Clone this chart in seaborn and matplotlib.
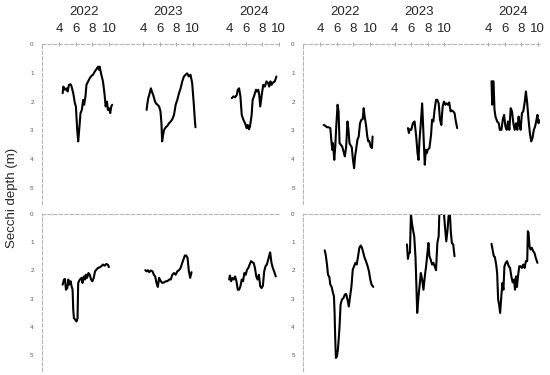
import matplotlib
matplotlib.use("Agg")
import numpy as np
import pandas as pd
import matplotlib.pyplot as plt
import seaborn as sns

# years and month ticks shown on top of each panel
years = [2022, 2023, 2024]
month_ticks = [4, 6, 8, 10]

# ---- top-left panel: decimal month / Secchi depth (m)
tl_2022_month = [4.40, 4.48, 4.68, 4.88, 5.00, 5.16, 5.36, 5.48, 5.68, 5.88, 6.00, 6.16, 6.28, 6.40, 6.56, 6.72, 6.88, 7.00, 7.16, 7.28,
                 7.48, 7.68, 7.88, 8.08, 8.28, 8.48, 8.68, 8.80, 8.88, 9.08, 9.28, 9.48, 9.60, 9.76, 9.88, 10.00, 10.16, 10.28, 10.40]
tl_2022_depth = [1.71, 1.48, 1.59, 1.54, 1.65, 1.42, 1.40, 1.48, 1.71, 2.06, 2.17, 2.98, 3.38, 2.98, 2.40, 2.29, 1.94, 2.11, 1.82, 1.42,
                 1.30, 1.19, 1.11, 1.07, 0.96, 0.88, 0.79, 0.90, 0.79, 1.07, 1.30, 1.77, 2.17, 2.00, 2.29, 2.23, 2.40, 2.17, 2.11]
tl_2023_month = [4.40, 4.48, 4.60, 4.72, 4.92, 5.04, 5.20, 5.36, 5.52, 5.72, 5.92, 6.08, 6.20, 6.28, 6.40, 6.52, 6.72, 6.92, 7.12, 7.32,
                 7.52, 7.72, 7.92, 8.12, 8.32, 8.52, 8.72, 8.92, 9.12, 9.32, 9.52, 9.72, 9.92, 10.12, 10.24, 10.32]
tl_2023_depth = [2.29, 2.11, 1.88, 1.77, 1.54, 1.65, 1.77, 1.94, 2.06, 2.11, 2.17, 2.34, 2.75, 3.38, 3.15, 2.98, 2.89, 2.84, 2.75, 2.69,
                 2.61, 2.46, 2.11, 1.94, 1.71, 1.54, 1.30, 1.13, 1.07, 1.02, 1.13, 1.07, 1.36, 2.11, 2.63, 2.89]
tl_2024_month = [4.32, 4.52, 4.72, 4.92, 5.04, 5.20, 5.36, 5.52, 5.72, 5.92, 6.12, 6.24, 6.40, 6.52, 6.72, 6.84, 7.00, 7.12, 7.24, 7.36,
                 7.52, 7.64, 7.76, 7.92, 8.12, 8.32, 8.52, 8.72, 8.84, 9.00, 9.12, 9.32, 9.52, 9.72]
tl_2024_depth = [1.88, 1.82, 1.85, 1.77, 1.59, 1.54, 1.82, 2.46, 2.63, 2.75, 2.92, 2.81, 2.96, 2.86, 2.46, 1.94, 1.82, 1.71, 1.59, 1.65,
                 1.59, 1.77, 2.17, 1.82, 1.42, 1.48, 1.30, 1.36, 1.48, 1.30, 1.42, 1.34, 1.30, 1.13]

# ---- top-right panel
tr_2022_month = [4.40, 4.60, 4.80, 5.00, 5.20, 5.32, 5.44, 5.52, 5.68, 5.80, 5.92, 6.08, 6.20, 6.32, 6.48, 6.64, 6.80, 6.96, 7.12, 7.28,
                 7.40, 7.52, 7.68, 7.80, 7.92, 8.08, 8.20, 8.32, 8.48, 8.64, 8.80, 8.96, 9.12, 9.24, 9.36, 9.52, 9.68, 9.80, 9.92, 10.08,
                 10.24, 10.32]
tr_2022_depth = [2.81, 2.84, 2.89, 2.89, 2.92, 3.33, 3.67, 3.44, 4.02, 3.56, 2.86, 2.11, 2.34, 3.44, 3.50, 3.56, 3.73, 3.90, 3.56, 2.69,
                 2.98, 3.44, 3.53, 3.58, 3.96, 4.31, 3.90, 3.67, 3.33, 3.21, 2.75, 2.63, 2.61, 2.23, 2.52, 2.81, 3.21, 3.38, 3.36, 3.56,
                 3.61, 3.21]
tr_2023_month = [5.60, 5.72, 5.80, 6.00, 6.20, 6.40, 6.60, 6.76, 6.88, 7.00, 7.16, 7.32, 7.44, 7.56, 7.64, 7.76, 7.88, 8.00, 8.20, 8.40,
                 8.52, 8.68, 8.80, 9.00, 9.16, 9.32, 9.48, 9.64, 9.80, 9.96, 10.12, 10.28, 10.44, 10.60, 10.76, 10.92, 11.08, 11.24,
                 11.40, 11.56]
tr_2023_depth = [2.92, 3.09, 2.96, 2.98, 2.75, 2.69, 3.21, 3.79, 4.02, 3.33, 2.75, 2.06, 2.86, 3.67, 4.19, 3.67, 3.79, 3.67, 3.61, 3.15,
                 2.63, 2.69, 2.34, 1.94, 1.94, 2.06, 2.63, 2.81, 2.17, 2.00, 2.11, 2.06, 2.11, 2.03, 2.34, 2.31, 2.34, 2.40, 2.69, 2.92]
tr_2024_month = [4.40, 4.48, 4.52, 4.64, 4.76, 4.88, 5.08, 5.28, 5.40, 5.60, 5.76, 5.92, 6.08, 6.24, 6.40, 6.56, 6.72, 6.88, 7.04, 7.20,
                 7.36, 7.52, 7.68, 7.80, 7.92, 8.08, 8.24, 8.40, 8.56, 8.72, 8.88, 9.04, 9.20, 9.36, 9.52, 9.68, 9.84, 9.96, 10.08,
                 10.20, 10.32]
tr_2024_depth = [1.30, 2.11, 1.30, 1.30, 2.29, 2.52, 2.69, 2.75, 2.98, 2.98, 2.63, 2.46, 2.86, 2.98, 2.69, 2.98, 2.23, 2.34, 2.75, 2.98,
                 2.75, 2.98, 2.52, 2.81, 2.98, 2.40, 2.34, 2.06, 1.65, 2.06, 2.63, 3.09, 3.38, 3.27, 2.98, 2.86, 2.63, 2.46, 2.75,
                 2.69, 2.63]

# ---- bottom-left panel
bl_2022_month = [4.40, 4.56, 4.68, 4.80, 4.96, 5.08, 5.20, 5.36, 5.48, 5.60, 5.68, 5.76, 5.92, 6.08, 6.20, 6.28, 6.48, 6.68, 6.80, 6.96,
                 7.12, 7.20, 7.36, 7.52, 7.68, 7.84, 8.00, 8.16, 8.32, 8.48, 8.68, 8.88, 9.08, 9.28, 9.48, 9.68, 9.88, 10.00]
bl_2022_depth = [2.50, 2.32, 2.30, 2.68, 2.62, 2.32, 2.50, 2.38, 2.56, 2.68, 3.38, 3.68, 3.74, 3.80, 3.68, 2.44, 2.32, 2.26, 2.44, 2.21,
                 2.32, 2.15, 2.26, 2.09, 2.15, 2.32, 2.38, 2.26, 2.03, 1.97, 1.91, 1.89, 1.85, 1.79, 1.83, 1.77, 1.80, 1.88]
bl_2023_month = [4.24, 4.40, 4.56, 4.72, 4.92, 5.12, 5.28, 5.44, 5.60, 5.76, 5.92, 6.12, 6.32, 6.52, 6.72, 6.92, 7.12, 7.32, 7.52, 7.72,
                 7.92, 8.12, 8.32, 8.52, 8.72, 8.92, 9.04, 9.20, 9.36, 9.52, 9.68, 9.84]
bl_2023_depth = [1.99, 2.03, 1.99, 2.06, 2.00, 2.03, 2.15, 2.21, 2.44, 2.58, 2.26, 2.38, 2.44, 2.42, 2.38, 2.38, 2.32, 2.32, 2.15, 2.09,
                 2.15, 2.03, 1.99, 1.91, 1.73, 1.56, 1.47, 1.47, 1.56, 2.03, 2.26, 2.06]
bl_2024_month = [4.00, 4.08, 4.24, 4.40, 4.56, 4.72, 4.88, 5.04, 5.20, 5.36, 5.52, 5.68, 5.84, 6.00, 6.16, 6.32, 6.48, 6.64, 6.80, 6.96,
                 7.12, 7.28, 7.44, 7.60, 7.76, 7.92, 8.08, 8.24, 8.40, 8.56, 8.72, 8.88, 8.96, 9.12, 9.28, 9.44, 9.64]
bl_2024_depth = [2.32, 2.18, 2.38, 2.26, 2.32, 2.21, 2.38, 2.68, 2.68, 2.56, 2.32, 2.38, 2.09, 2.15, 1.97, 1.91, 1.79, 1.67, 1.71, 1.73,
                 1.91, 2.21, 2.32, 2.15, 2.56, 2.62, 2.54, 2.03, 1.85, 1.79, 1.62, 1.44, 1.36, 1.73, 1.91, 2.03, 2.21]

# ---- bottom-right panel
br_2022_month = [4.52, 4.64, 4.80, 4.92, 5.08, 5.20, 5.36, 5.52, 5.64, 5.72, 5.80, 5.88, 6.00, 6.12, 6.24, 6.32, 6.44, 6.60, 6.80, 6.96,
                 7.12, 7.28, 7.44, 7.60, 7.76, 7.92, 8.08, 8.24, 8.40, 8.56, 8.72, 8.88, 9.04, 9.20, 9.36, 9.52, 9.72, 9.88, 10.04,
                 10.20, 10.40]
br_2022_depth = [1.29, 1.44, 1.79, 2.15, 2.23, 2.50, 2.58, 2.79, 2.91, 3.50, 4.45, 5.09, 5.04, 4.80, 4.33, 3.97, 3.21, 3.03, 2.97, 2.85,
                 2.83, 3.03, 3.27, 2.91, 2.56, 1.97, 1.85, 1.73, 1.79, 1.50, 1.20, 1.12, 1.20, 1.38, 1.56, 1.67, 1.85, 2.03, 2.32,
                 2.50, 2.58]
br_2023_month = [5.48, 5.60, 5.72, 5.84, 5.96, 6.08, 6.20, 6.36, 6.52, 6.60, 6.72, 6.88, 7.00, 7.16, 7.32, 7.48, 7.64, 7.80, 7.96, 8.08,
                 8.20, 8.36, 8.52, 8.68, 8.84, 9.00, 9.16, 9.32, 9.40, 9.56, 9.80, 9.96, 10.08, 10.24, 10.40, 10.52, 10.68, 10.80,
                 10.92, 11.08, 11.24]
br_2023_depth = [1.08, 1.59, 1.38, 1.38, 0.00, 0.32, 0.55, 0.79, 1.56, 2.32, 3.50, 2.91, 2.56, 2.09, 2.32, 2.68, 2.21, 1.85, 1.38, 1.03,
                 1.50, 1.62, 1.79, 1.73, 1.85, 1.99, 1.03, 0.79, 0.00, 0.00, 0.00, 0.00, 0.44, 0.97, 0.55, 0.08, 0.00, 0.67,
                 1.03, 1.08, 1.50]
br_2024_month = [4.40, 4.56, 4.68, 4.80, 4.96, 5.08, 5.20, 5.32, 5.44, 5.60, 5.72, 5.84, 5.96, 6.12, 6.28, 6.48, 6.64, 6.80, 6.96, 7.12,
                 7.24, 7.36, 7.48, 7.60, 7.76, 7.92, 8.08, 8.24, 8.40, 8.56, 8.72, 8.80, 8.88, 9.00, 9.12, 9.28, 9.44, 9.60, 9.76, 9.96]
br_2024_depth = [1.06, 1.32, 1.50, 1.52, 1.79, 2.09, 3.03, 3.21, 3.50, 2.85, 2.44, 2.68, 1.85, 1.73, 1.67, 1.85, 1.91, 2.21, 2.42, 2.32,
                 2.68, 2.21, 2.58, 2.21, 1.85, 1.85, 1.91, 1.79, 1.91, 1.67, 1.67, 0.61, 0.67, 1.14, 1.26, 1.20, 1.32, 1.38, 1.56, 1.73]

panels = {
    "tl": [(tl_2022_month, tl_2022_depth), (tl_2023_month, tl_2023_depth), (tl_2024_month, tl_2024_depth)],
    "tr": [(tr_2022_month, tr_2022_depth), (tr_2023_month, tr_2023_depth), (tr_2024_month, tr_2024_depth)],
    "bl": [(bl_2022_month, bl_2022_depth), (bl_2023_month, bl_2023_depth), (bl_2024_month, bl_2024_depth)],
    "br": [(br_2022_month, br_2022_depth), (br_2023_month, br_2023_depth), (br_2024_month, br_2024_depth)],
}

# where each year block starts on the shared x axis of a panel (left / right column)
year_offsets = {"l": [0, 10.16, 20.56], "r": [0, 9.0, 20.32]}

sns.set_style("white")
plt.rcParams["font.family"] = ["Liberation Sans", "DejaVu Sans"]

fig = plt.figure(figsize=(5.5, 3.75), dpi=100)
positions = {
    "tl": [0.0764, 0.456, 0.431, 0.427],
    "tr": [0.551, 0.456, 0.431, 0.427],
    "bl": [0.0764, 0.0107, 0.431, 0.419],
    "br": [0.551, 0.0107, 0.431, 0.419],
}
grey = "#b5b5b5"

for key, series in panels.items():
    ax = fig.add_axes(positions[key])
    offs = year_offsets[key[1]]
    frames = []
    for yr, off, (m, d) in zip(years, offs, series):
        frames.append(pd.DataFrame({"pos": np.array(m) + off, "depth": d, "year": yr}))
    df = pd.concat(frames, ignore_index=True)
    sns.lineplot(data=df, x="pos", y="depth", units="year", estimator=None, sort=False,
                 color="black", linewidth=1.5, ax=ax)
    ax.set_xlim(1.9, 30.6)
    ax.set_ylim(5.55, 0)
    ax.set_xlabel("")
    ax.set_ylabel("")
    for s in ["right", "bottom"]:
        ax.spines[s].set_visible(False)
    for s in ["left", "top"]:
        ax.spines[s].set_color(grey)
        ax.spines[s].set_linewidth(0.8)
        ax.spines[s].set_linestyle((0, (3, 2)))
    ax.set_yticks(range(6))
    ax.tick_params(axis="y", labelsize=4.5, labelcolor="#555555", color="#999999",
                   length=2, width=0.5, pad=4)
    ax.xaxis.tick_top()
    if key[0] == "t":
        ticks = [off + m for off in offs for m in month_ticks]
        ax.set_xticks(ticks)
        ax.set_xticklabels([str(m) for off in offs for m in month_ticks])
        ax.tick_params(axis="x", top=True, labeltop=True, labelsize=9.5, length=3,
                       width=0.6, direction="inout", color="#999999", pad=5)
        for yr, off in zip(years, offs):
            ax.text(off + 7, 1.2, str(yr), transform=ax.get_xaxis_transform(),
                    ha="center", va="center", fontsize=9.5)
    else:
        ax.set_xticks([])

fig.text(0.022, 0.472, "Secchi depth (m)", rotation=90, ha="center", va="center", fontsize=9.5)

plt.savefig("out.png", dpi=100)
